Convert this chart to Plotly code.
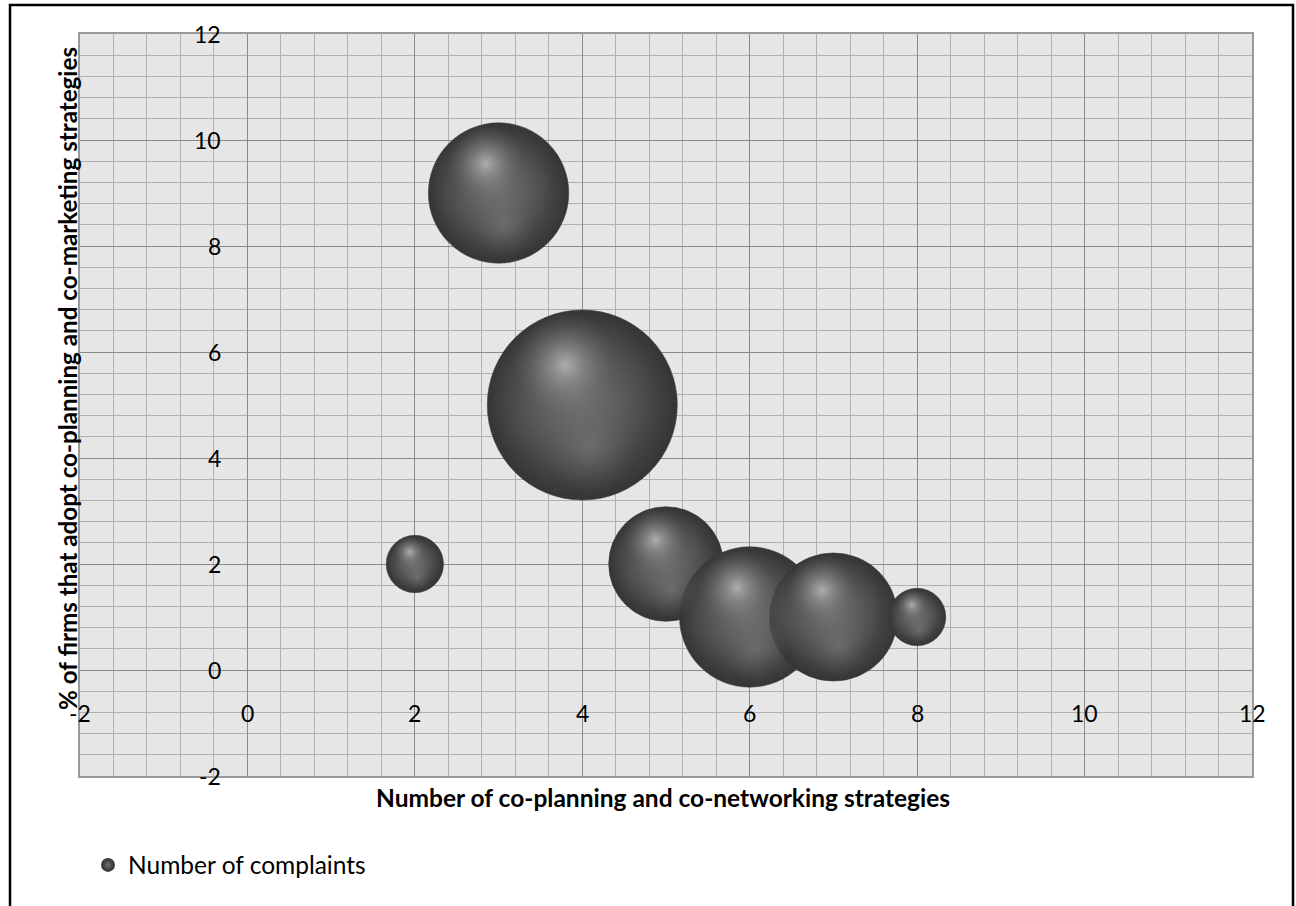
import plotly.graph_objects as go

# Bubble data: strategies (x), % of firms (y), number of complaints (bubble size)
strategies = [2, 3, 4, 5, 6, 7, 8]
pct_firms = [2, 9, 5, 2, 1, 1, 1]
complaints = [1, 6, 11, 4, 6, 5, 1]

x_ticks = [-2, 0, 2, 4, 6, 8, 10, 12]
y_ticks = [-2, 0, 2, 4, 6, 8, 10, 12]

W, H = 1296, 906
M_L, M_R, M_T, M_B = 80, 44, 34, 130
X_RANGE = [-2, 12]
Y_RANGE = [-2, 12]
plot_w = W - M_L - M_R
plot_h = H - M_T - M_B
px_per_x = plot_w / (X_RANGE[1] - X_RANGE[0])
px_per_y = plot_h / (Y_RANGE[1] - Y_RANGE[0])

D_MAX = 190  # diameter of the largest bubble in px
cmax = max(complaints)
sizeref = 2.0 * cmax / D_MAX ** 2

FONT = "Lato"
fig = go.Figure()

# sphere body (radial gradient: gradient.color at the centre, marker.color at the rim)
fig.add_trace(go.Scatter(
    x=strategies, y=pct_firms, mode="markers", name="Number of complaints",
    marker=dict(size=complaints, sizemode="area", sizeref=sizeref, opacity=1,
                color="#353535",
                gradient=dict(type="radial", color="#6e6e6e"),
                line=dict(width=0.6, color="#3c3c3c")),
    hoverinfo="x+y+text", text=[f"Complaints: {c}" for c in complaints],
))


def shading_layer(dx, dy, area_frac, centre_rgba):
    """Soft light spot placed relative to each sphere, scaled with its radius."""
    xs, ys, ss = [], [], []
    for xv, yv, c in zip(strategies, pct_firms, complaints):
        r_px = D_MAX * (c / cmax) ** 0.5 / 2
        xs.append(xv + dx * r_px / px_per_x)
        ys.append(yv + dy * r_px / px_per_y)
        ss.append(c * area_frac)
    return go.Scatter(
        x=xs, y=ys, mode="markers", showlegend=False, hoverinfo="skip",
        marker=dict(size=ss, sizemode="area", sizeref=sizeref, opacity=1,
                    color="rgba(100,100,100,0)",
                    gradient=dict(type="radial", color=centre_rgba),
                    line=dict(width=0)),
    )


# broad body light, nudged up-left so the lower-right rim stays dark
fig.add_trace(shading_layer(-0.10, 0.10, 0.78, "rgba(115,115,115,0.6)"))
# faint reflection in the lower half
fig.add_trace(shading_layer(0.08, -0.45, 0.22, "rgba(128,128,128,0.5)"))
# specular highlight toward the upper-left
fig.add_trace(shading_layer(-0.18, 0.42, 0.30, "rgba(188,188,188,0.85)"))

annotations = []
for t in x_ticks:
    annotations.append(dict(x=t, y=0, xref="x", yref="y", text=str(t), showarrow=False,
                            yshift=-43, xanchor="center", yanchor="middle",
                            font=dict(family=FONT, size=23, color="#000")))
for t in y_ticks:
    annotations.append(dict(x=0, y=t, xref="x", yref="y", text=str(t), showarrow=False,
                            xshift=-24, xanchor="right", yanchor="middle",
                            font=dict(family=FONT, size=23, color="#000")))

annotations.append(dict(x=(663 - M_L) / plot_w, y=-(797 - (H - M_B)) / plot_h,
                        xref="paper", yref="paper", showarrow=False,
                        text="<b>Number of co-planning and co-networking strategies</b>",
                        xanchor="center", yanchor="middle",
                        font=dict(family=FONT, size=24.5, color="#000")))
annotations.append(dict(x=(67 - M_L) / plot_w, y=((H - M_B) - 379) / plot_h,
                        xref="paper", yref="paper", showarrow=False, textangle=-90,
                        text="<b>% of firms that adopt co-planning and co-marketing strategies</b>",
                        xanchor="center", yanchor="middle",
                        font=dict(family=FONT, size=24.2, color="#000")))

shapes = [dict(type="rect", xref="paper", yref="paper", layer="above",
               x0=(10 - M_L) / plot_w, x1=(1293 - M_L) / plot_w,
               y0=((H - M_B) - 910) / plot_h, y1=((H - M_B) - 5) / plot_h,
               line=dict(color="#000", width=2.5), fillcolor="rgba(0,0,0,0)")]

axis_common = dict(showticklabels=False, ticks="", zeroline=False,
                   showgrid=True, gridcolor="#8a8a8a", gridwidth=1.2,
                   showline=True, mirror=True, linecolor="#9a9a9a", linewidth=1.5,
                   minor=dict(dtick=0.4, tick0=0, showgrid=True, gridcolor="#b0b0b0", gridwidth=1.3))

fig.update_xaxes(range=X_RANGE, dtick=2, tick0=0, **axis_common)
fig.update_yaxes(range=Y_RANGE, dtick=2, tick0=0, **axis_common)

fig.update_layout(
    width=W, height=H,
    margin=dict(l=M_L, r=M_R, t=M_T, b=M_B, autoexpand=False),
    paper_bgcolor="#ffffff", plot_bgcolor="#e6e6e6",
    annotations=annotations, shapes=shapes,
    showlegend=True,
    legend=dict(x=(88 - M_L) / plot_w, y=-(865 - (H - M_B)) / plot_h,
                xanchor="left", yanchor="middle", itemsizing="constant",
                font=dict(family=FONT, size=24.5, color="#000"),
                bgcolor="rgba(0,0,0,0)"),
    font=dict(family=FONT),
)

fig.write_html("out.html")
